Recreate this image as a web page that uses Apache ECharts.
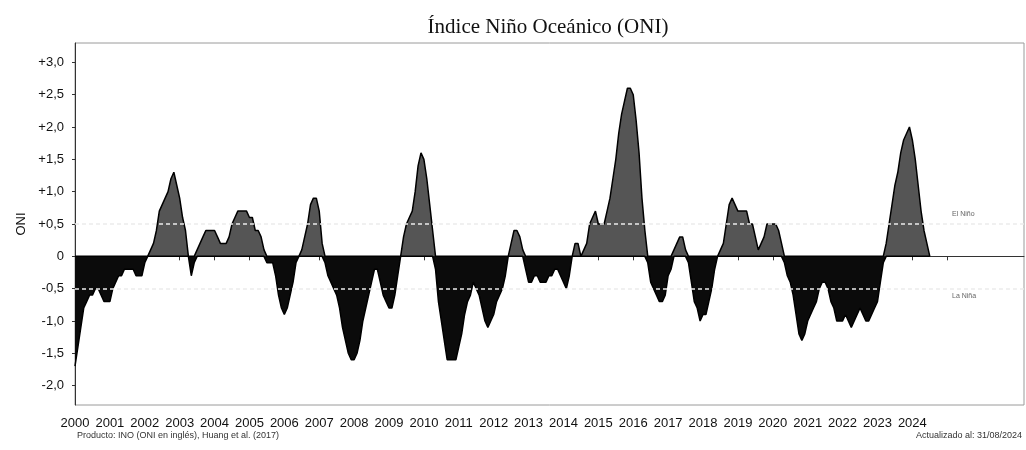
<!DOCTYPE html>
<html>
<head>
<meta charset="utf-8">
<script src="https://cdn.jsdelivr.net/npm/echarts@6/dist/echarts.min.js"></script>
<style>
html,body{margin:0;padding:0;background:#fff;}
#chart{width:1026px;height:450px;}
</style>
</head>
<body>
<div id="chart"></div>
<script>
// ONI values, 3-month running seasons, starting DJF 2000, one row per year
const startYear = 2000;
const oni = [
  -1.7,-1.4,-1.1,-0.8,-0.7,-0.6,-0.6,-0.5,-0.5,-0.6,-0.7,-0.7, // 2000
  -0.7,-0.5,-0.4,-0.3,-0.3,-0.2,-0.2,-0.2,-0.2,-0.3,-0.3,-0.3, // 2001
  -0.1, 0.0, 0.1, 0.2, 0.4, 0.7, 0.8, 0.9, 1.0, 1.2, 1.3, 1.1, // 2002
   0.9, 0.6, 0.4, 0.0,-0.3,-0.1, 0.1, 0.2, 0.3, 0.4, 0.4, 0.4, // 2003
   0.4, 0.3, 0.2, 0.2, 0.2, 0.3, 0.5, 0.6, 0.7, 0.7, 0.7, 0.7, // 2004
   0.6, 0.6, 0.4, 0.4, 0.3, 0.1,-0.1,-0.1,-0.1,-0.3,-0.6,-0.8, // 2005
  -0.9,-0.8,-0.6,-0.4,-0.1, 0.0, 0.1, 0.3, 0.5, 0.8, 0.9, 0.9, // 2006
   0.7, 0.2,-0.1,-0.3,-0.4,-0.5,-0.6,-0.8,-1.1,-1.3,-1.5,-1.6, // 2007
  -1.6,-1.5,-1.3,-1.0,-0.8,-0.6,-0.4,-0.2,-0.2,-0.4,-0.6,-0.7, // 2008
  -0.8,-0.8,-0.6,-0.3, 0.0, 0.3, 0.5, 0.6, 0.7, 1.0, 1.4, 1.6, // 2009
   1.5, 1.2, 0.8, 0.4,-0.2,-0.7,-1.0,-1.3,-1.6,-1.6,-1.6,-1.6, // 2010
  -1.4,-1.2,-0.9,-0.7,-0.6,-0.4,-0.5,-0.6,-0.8,-1.0,-1.1,-1.0, // 2011
  -0.9,-0.7,-0.6,-0.5,-0.3, 0.0, 0.2, 0.4, 0.4, 0.3, 0.1,-0.2, // 2012
  -0.4,-0.4,-0.3,-0.3,-0.4,-0.4,-0.4,-0.3,-0.3,-0.2,-0.2,-0.3, // 2013
  -0.4,-0.5,-0.3, 0.0, 0.2, 0.2, 0.0, 0.1, 0.2, 0.5, 0.6, 0.7, // 2014
   0.5, 0.5, 0.5, 0.7, 0.9, 1.2, 1.5, 1.9, 2.2, 2.4, 2.6, 2.6, // 2015
   2.5, 2.1, 1.6, 0.9, 0.4,-0.1,-0.4,-0.5,-0.6,-0.7,-0.7,-0.6, // 2016
  -0.3,-0.2, 0.1, 0.2, 0.3, 0.3, 0.1,-0.1,-0.4,-0.7,-0.8,-1.0, // 2017
  -0.9,-0.9,-0.7,-0.5,-0.2, 0.0, 0.1, 0.2, 0.5, 0.8, 0.9, 0.8, // 2018
   0.7, 0.7, 0.7, 0.7, 0.5, 0.5, 0.3, 0.1, 0.2, 0.3, 0.5, 0.5, // 2019
   0.5, 0.5, 0.4, 0.2,-0.1,-0.3,-0.4,-0.6,-0.9,-1.2,-1.3,-1.2, // 2020
  -1.0,-0.9,-0.8,-0.7,-0.5,-0.4,-0.4,-0.5,-0.7,-0.8,-1.0,-1.0, // 2021
  -1.0,-0.9,-1.0,-1.1,-1.0,-0.9,-0.8,-0.9,-1.0,-1.0,-0.9,-0.8, // 2022
  -0.7,-0.4,-0.1, 0.2, 0.5, 0.8, 1.1, 1.3, 1.6, 1.8, 1.9, 2.0, // 2023
   1.8, 1.5, 1.1, 0.7, 0.4, 0.2, 0.0                          // 2024
];
const yearLabels = [2000,2001,2002,2003,2004,2005,2006,2007,2008,2009,2010,2011,2012,
  2013,2014,2015,2016,2017,2018,2019,2020,2021,2022,2023,2024];
const yearTicks = yearLabels.concat([2025]);
const yTickValues = [-2.0,-1.5,-1.0,-0.5,0,0.5,1.0,1.5,2.0,2.5,3.0];
const thresholds = [0.5,-0.5];

const posData = oni.map((v,i)=>[startYear + i/12, Math.max(v,0)]);
const negData = oni.map((v,i)=>[startYear + i/12, Math.min(v,0)]);

function fmtY(v){
  if (Math.abs(v) < 1e-9) return '0';
  const s = Math.abs(v).toFixed(1).replace('.', ',');
  return (v > 0 ? '+' : '-') + s;
}

const chart = echarts.init(document.getElementById('chart'));
chart.setOption({
  animation: false,
  backgroundColor: '#fff',
  title: {
    text: 'Índice Niño Oceánico (ONI)',
    left: 543, top: 12, textAlign: 'center',
    textStyle: {fontFamily: 'Liberation Serif', fontSize: 21, fontWeight: 'normal', color: '#111'}
  },
  grid: {left: 75, right: 2, top: 43, bottom: 45, show: true, borderColor: '#9a9a9a', borderWidth: 1},
  xAxis: {
    type: 'value', min: 2000, max: 2027.2,
    splitLine: {show: false},
    axisLine: {lineStyle: {color: '#333', width: 1}},
    axisTick: {show: true, customValues: yearTicks, length: 4, lineStyle: {color: '#333'}},
    axisLabel: {customValues: yearLabels, formatter: v => String(Math.round(v)),
      fontFamily: 'Liberation Sans', fontSize: 13, color: '#111', margin: 12}
  },
  yAxis: {
    type: 'value', min: -2.3, max: 3.3,
    name: 'ONI', nameLocation: 'middle', nameRotate: 90, nameGap: 47,
    nameTextStyle: {fontFamily: 'Liberation Sans', fontSize: 13, color: '#111'},
    splitLine: {show: false},
    axisLine: {show: true, lineStyle: {color: '#333', width: 1}},
    axisTick: {show: true, customValues: yTickValues, length: 3, lineStyle: {color: '#333'}},
    axisLabel: {customValues: yTickValues, formatter: fmtY,
      fontFamily: 'Liberation Sans', fontSize: 13, color: '#111', margin: 11}
  },
  series: [
    {
      type: 'line', data: posData, showSymbol: false, z: 2,
      lineStyle: {color: '#000', width: 1.5},
      areaStyle: {color: '#555555', opacity: 1, origin: 0}
    },
    {
      type: 'line', data: negData, showSymbol: false, z: 2,
      lineStyle: {color: '#000', width: 1.5},
      areaStyle: {color: '#0b0b0b', opacity: 1, origin: 0}
    },
    {
      type: 'line', data: [], z: 3,
      markLine: {
        silent: true, symbol: 'none', label: {show: false},
        lineStyle: {color: '#ececec', type: [4, 3], width: 1.5},
        data: thresholds.map(t => ({yAxis: t}))
      }
    }
  ],
  graphic: [
    {type: 'text', left: 952, top: 211, style: {text: 'El Niño', fontFamily: 'Liberation Sans', fontSize: 7, fill: '#666'}},
    {type: 'text', left: 952, top: 293, style: {text: 'La Niña', fontFamily: 'Liberation Sans', fontSize: 7, fill: '#666'}},
    {type: 'text', left: 77, top: 431, style: {text: 'Producto: INO (ONI en inglés), Huang et al. (2017)', fontFamily: 'Liberation Sans', fontSize: 9, fill: '#333'}},
    {type: 'text', right: 4, top: 431, style: {text: 'Actualizado al: 31/08/2024', fontFamily: 'Liberation Sans', fontSize: 9, fill: '#333'}}
  ]
});
</script>
</body>
</html>
